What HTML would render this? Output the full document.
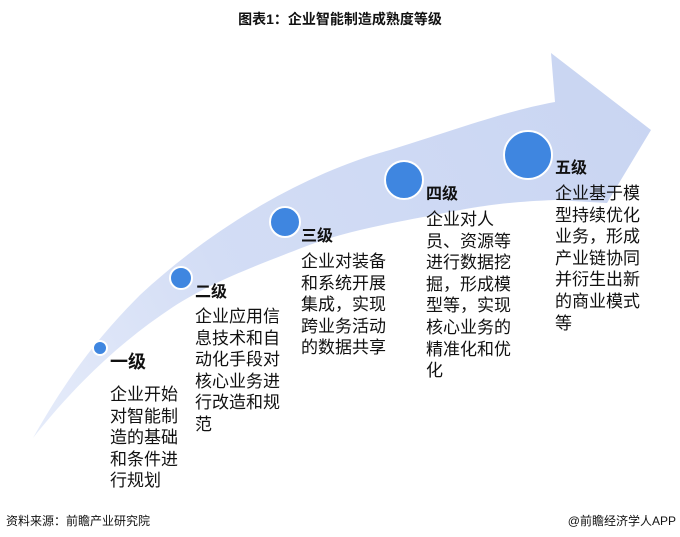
<!DOCTYPE html>
<html><head><meta charset="utf-8"><style>
body{margin:0;width:680px;height:537px;background:#fff;overflow:hidden;position:relative;font-family:"Liberation Sans","Noto Sans CJK SC",sans-serif;color:#111}
.t{position:absolute;white-space:nowrap}
.lv{font-weight:bold;font-size:16px}
.d{font-size:17px;line-height:21.6px;white-space:normal;word-break:break-all}
</style></head><body>
<div class="t" style="left:0;width:680px;text-align:center;top:9px;font-size:14px;font-weight:bold">图表1：企业智能制造成熟度等级</div>
<svg width="680" height="537" style="position:absolute;left:0;top:0">
<defs><linearGradient id="g" x1="30" y1="440" x2="650" y2="120" gradientUnits="userSpaceOnUse">
<stop offset="0" stop-color="#e6ecfa"/><stop offset="0.35" stop-color="#d3ddf5"/><stop offset="1" stop-color="#c9d5f2"/></linearGradient></defs>
<path d="M33,438 C60,390 90,345 140,295 C210,230 300,175 390,150 C460,128 510,110 555,102 L551,53 L651,130 L607,203 L555,200 C500,202 470,208 434,215 C380,225 340,233 304,247 C250,268 210,283 173,307 C120,342 75,385 33,438 Z" fill="url(#g)"/>
<g fill="#3f86e0" stroke="#fff" stroke-width="2">
<circle cx="100" cy="348" r="7"/><circle cx="181" cy="278" r="11"/><circle cx="285" cy="222" r="15"/><circle cx="404" cy="180" r="19"/><circle cx="528" cy="155" r="24"/></g>
</svg>
<div class="t lv" style="left:110px;top:348px;font-size:18px">一级</div>
<div class="t d" style="left:110px;top:384px;width:70px">企业开始对智能制造的基础和条件进行规划</div>
<div class="t lv" style="left:195px;top:278px">二级</div>
<div class="t d" style="left:195px;top:306px;width:88px">企业应用信息技术和自动化手段对核心业务进行改造和规范</div>
<div class="t lv" style="left:301px;top:222px">三级</div>
<div class="t d" style="left:301px;top:251px;width:88px">企业对装备和系统开展集成，实现跨业务活动的数据共享</div>
<div class="t lv" style="left:426px;top:180px">四级</div>
<div class="t d" style="left:426px;top:209px;width:88px">企业对人员、资源等进行数据挖掘，形成模型等，实现核心业务的精准化和优化</div>
<div class="t lv" style="left:555px;top:154px">五级</div>
<div class="t d" style="left:555px;top:183px;width:88px">企业基于模型持续优化业务，形成产业链协同并衍生出新的商业模式等</div>
<div class="t" style="left:6px;top:512px;font-size:12px">资料来源：前瞻产业研究院</div>
<div class="t" style="right:4px;top:512px;font-size:12px">@前瞻经济学人APP</div>
</body></html>
